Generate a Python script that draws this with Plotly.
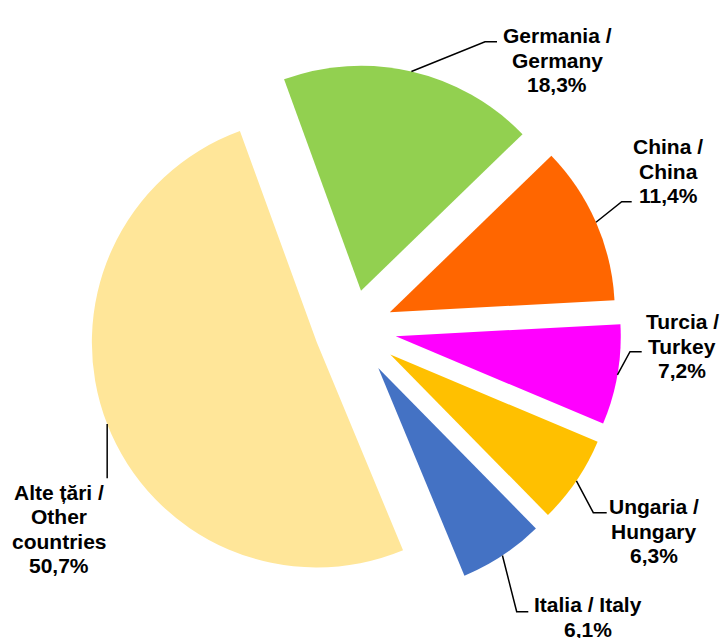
import math
import plotly.graph_objects as go

# Export partners, share of total (%)
countries = ["Germania / Germany", "China / China", "Turcia / Turkey",
             "Ungaria / Hungary", "Italia / Italy", "Alte țări / Other countries"]
shares = [18.3, 11.4, 7.2, 6.3, 6.1, 50.7]
label_lines = [["Germania /", "Germany"], ["China /", "China"], ["Turcia /", "Turkey"],
               ["Ungaria /", "Hungary"], ["Italia / Italy"], ["Alte țări /", "Other", "countries"]]
colors = ["#92D050", "#FF6600", "#FF00FF", "#FFC000", "#4472C4", "#FFE699"]
pulls = [0.173, 0.182, 0.196, 0.204, 0.209, 0.169]

W, H = 724, 638
CX, CY = 352.3, 328.7      # pie centre in px
R = 225.0                  # pie radius in px
START = -20.0              # first slice edge, degrees clockwise from 12 o'clock

# label block centres and leader-line bends (px)
label_pos = [(557, 60), (668, 171), (682, 346), (654, 531), (588, 617), (59, 529)]
leader_bends = [[(485, 41.7), (497, 41.7)],
                [(621.7, 201.7), (631.7, 201.7)],
                [(630, 351.7), (641.7, 351.7)],
                [(593.3, 512.7), (606.7, 512.7)],
                [(516.7, 611.7), (528.3, 611.7)],
                [None]]
LINE_H = 24.5
FONT = "Liberation Sans, Arial, sans-serif"

box = 2 * R * (1 + max(pulls))
dom_x = [(CX - box / 2) / W, (CX + box / 2) / W]
dom_y = [1 - (CY + box / 2) / H, 1 - (CY - box / 2) / H]


def px(x, y):
    return x / W, 1 - y / H


fig = go.Figure(go.Pie(
    labels=countries, values=shares, sort=False, direction="clockwise",
    rotation=START, pull=pulls, textinfo="none",
    marker=dict(colors=colors, line=dict(width=0)),
    domain=dict(x=dom_x, y=dom_y), showlegend=False,
))

total = sum(shares)
acc = 0.0
annotations, shapes = [], []
for i, v in enumerate(shares):
    mid = math.radians(START + 360 * (acc + v / 2) / total)
    acc += v
    ux, uy = math.sin(mid), -math.cos(mid)
    d = R * (1 + pulls[i])
    ax, ay = CX + d * ux, CY + d * uy
    pts = [(ax, ay)]
    if leader_bends[i][0] is None:
        pts.append((ax, 478.3))
    else:
        pts += leader_bends[i]
    path = "M " + " L ".join("%.5f,%.5f" % px(x, y) for x, y in pts)
    shapes.append(dict(type="path", xref="paper", yref="paper", path=path,
                       line=dict(color="black", width=1.5)))

    lines = label_lines[i] + [("%.1f%%" % v).replace(".", ",")]
    tx, ty = label_pos[i]
    n = len(lines)
    for k, t in enumerate(lines):
        yy = ty + (k - (n - 1) / 2) * LINE_H
        x, y = px(tx, yy)
        annotations.append(dict(x=x, y=y, xref="paper", yref="paper", text="<b>%s</b>" % t,
                                showarrow=False, xanchor="center", yanchor="middle",
                                font=dict(family=FONT, size=21, color="black")))

fig.update_layout(width=W, height=H, margin=dict(l=0, r=0, t=0, b=0),
                  paper_bgcolor="white", plot_bgcolor="white",
                  annotations=annotations, shapes=shapes)
fig.write_html("out.html")
